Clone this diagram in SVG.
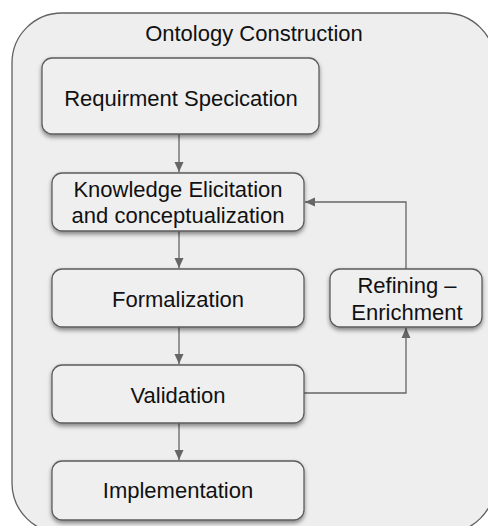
<svg xmlns="http://www.w3.org/2000/svg" width="488" height="526" viewBox="0 0 488 526">
  <style>
    .frame { fill: #eeeeee; stroke: #616161; stroke-width: 1.3; }
    .box { fill: #efefef; stroke: #5c5c5c; stroke-width: 1.3; filter: url(#shadow); }
    .label { font-family: "Liberation Sans", Arial, sans-serif; font-size: 22px; fill: #111111; text-anchor: middle; }
    .edge { fill: none; stroke: #666666; stroke-width: 1.3; marker-end: url(#arrow); }
    .line { fill: none; stroke: #666666; stroke-width: 1.3; }
  </style>
  <defs>
    <filter id="shadow" x="-10%" y="-20%" width="120%" height="150%">
      <feDropShadow dx="0" dy="2.5" stdDeviation="2" flood-color="#000000" flood-opacity="0.45"/>
    </filter>
    <marker id="arrow" viewBox="0 0 10 10" refX="10" refY="5" markerWidth="10" markerHeight="10" markerUnits="userSpaceOnUse" orient="auto">
      <path d="M0,0.5 L10,5 L0,9.5 Z" fill="#666666"/>
    </marker>
  </defs>

  <!-- container -->
  <g id="ontology-construction">
    <rect class="frame" x="12" y="13" width="483" height="520" rx="50" ry="50"/>
    <text class="label" x="254" y="41">Ontology Construction</text>
  </g>

  <!-- connectors -->
  <g id="connectors">
    <path class="edge" d="M179,134 V172"/>
    <path class="edge" d="M179,231 V268"/>
    <path class="edge" d="M179,327 V364"/>
    <path class="edge" d="M179,423 V460"/>
    <path class="edge" d="M406,269 V202 H305"/>
    <path class="edge" d="M304,393 H406 V328"/>
  </g>

  <g id="requirement-specification">
    <rect class="box" x="42" y="58" width="277" height="76" rx="10" ry="10"/>
    <text class="label" x="181" y="106">Requirment Specication</text>
  </g>

  <g id="knowledge-elicitation">
    <rect class="box" x="52" y="173" width="252" height="58" rx="10" ry="10"/>
    <text class="label" x="178" y="197">Knowledge Elicitation</text>
    <text class="label" x="178" y="223">and conceptualization</text>
  </g>

  <g id="formalization">
    <rect class="box" x="52" y="269" width="252" height="58" rx="10" ry="10"/>
    <text class="label" x="178" y="307">Formalization</text>
  </g>

  <g id="refining-enrichment">
    <rect class="box" x="330" y="269" width="152" height="58" rx="10" ry="10"/>
    <text class="label" x="407" y="293">Refining –</text>
    <text class="label" x="407" y="320">Enrichment</text>
  </g>

  <g id="validation">
    <rect class="box" x="52" y="365" width="252" height="58" rx="10" ry="10"/>
    <text class="label" x="178" y="403">Validation</text>
  </g>

  <g id="implementation">
    <rect class="box" x="52" y="461" width="252" height="59" rx="10" ry="10"/>
    <text class="label" x="178" y="498">Implementation</text>
  </g>
</svg>
